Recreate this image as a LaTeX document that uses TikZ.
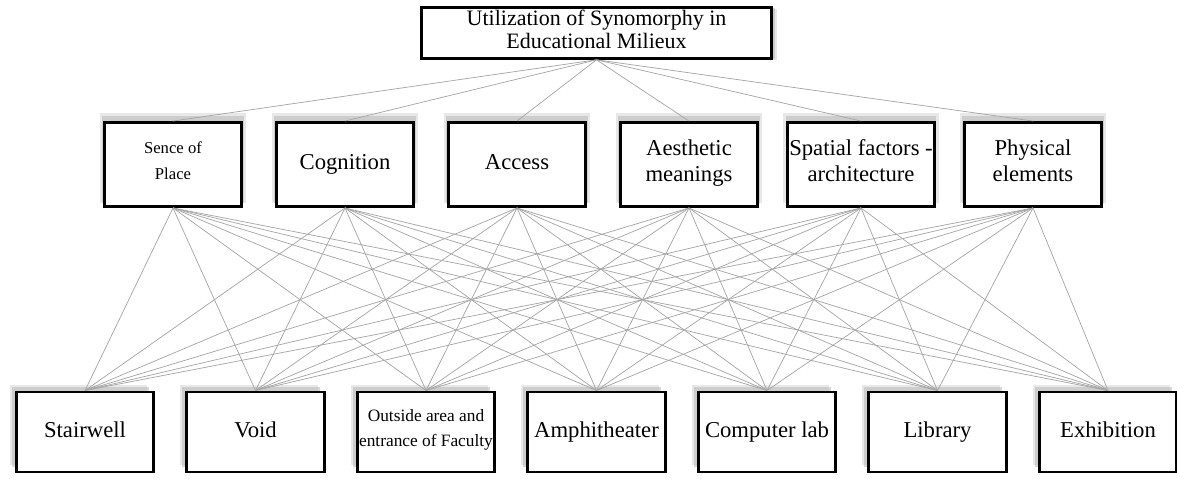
\documentclass[tikz,border=0pt]{standalone}
\usepackage{fontspec}
\setmainfont{Liberation Serif}
\usetikzlibrary{shadows}

\begin{document}
\begin{tikzpicture}[x=0.75pt,y=-0.75pt,
    box/.style={draw=black,line width=2.2pt,fill=white,align=center,
      minimum width=103pt,minimum height=63pt,inner sep=1pt,
      font=\fontsize{17}{20}\selectfont,
      execute at begin node=\strut,execute at end node=\strut},
    titlebox/.style={box,minimum width=262pt,minimum height=38pt,inner sep=0pt,
      font=\fontsize{16.5}{17.5}\selectfont,
      execute at begin node=,execute at end node=,
      drop shadow={shadow xshift=4pt,shadow yshift=-1pt,fill=gray!35},
      drop shadow={shadow xshift=2.5pt,shadow yshift=-0.5pt,fill=gray!65}},
    midbox/.style={box,
      drop shadow={shadow xshift=0pt,shadow yshift=4.5pt,shadow scale=1.07,fill=gray!35},
      drop shadow={shadow xshift=0pt,shadow yshift=3.5pt,shadow scale=1.03,fill=gray!60}},
    lowbox/.style={box,minimum height=60pt,
      drop shadow={shadow xshift=-5pt,shadow yshift=5pt,fill=gray!35},
      drop shadow={shadow xshift=-3.5pt,shadow yshift=3.5pt,fill=gray!60}},
    smalltext/.style={font=\fontsize{12.5}{20}\selectfont},
    link/.style={gray!70,line width=0.55pt}
  ]
    \useasboundingbox (0,0) rectangle (1177,478);
    % top
    \node[titlebox] (title) at (596.5,33) {Utilization of Synomorphy in\\Educational Milieux};
    % middle row
    \node[midbox,smalltext] (m1) at (173,164.5) {Sence of\\Place};
    \node[midbox] (m2) at (345,164.5) {Cognition};
    \node[midbox] (m3) at (517,164.5) {Access};
    \node[midbox] (m4) at (689,164.5) {Aesthetic\\meanings};
    \node[midbox] (m5) at (861,164.5) {Spatial factors -\\architecture};
    \node[midbox] (m6) at (1033,164.5) {Physical\\elements};
    % bottom row
    \node[lowbox] (b1) at (85,432) {Stairwell};
    \node[lowbox] (b2) at (255.5,432) {Void};
    \node[lowbox,font=\fontsize{13}{19}\selectfont] (b3) at (426,432) {Outside area and\\entrance of Faculty};
    \node[lowbox] (b4) at (596.5,432) {Amphitheater};
    \node[lowbox] (b5) at (767,432) {Computer lab};
    \node[lowbox] (b6) at (937.5,432) {Library};
    \node[lowbox] (b7) at (1108,432) {Exhibition};
    % links
    \foreach \i in {1,...,6}
      \draw[link] (title.south) -- (m\i.north);
    \foreach \i in {1,...,6}
      \foreach \j in {1,...,7}
        \draw[link] (m\i.south) -- (b\j.north);
\end{tikzpicture}
\end{document}
